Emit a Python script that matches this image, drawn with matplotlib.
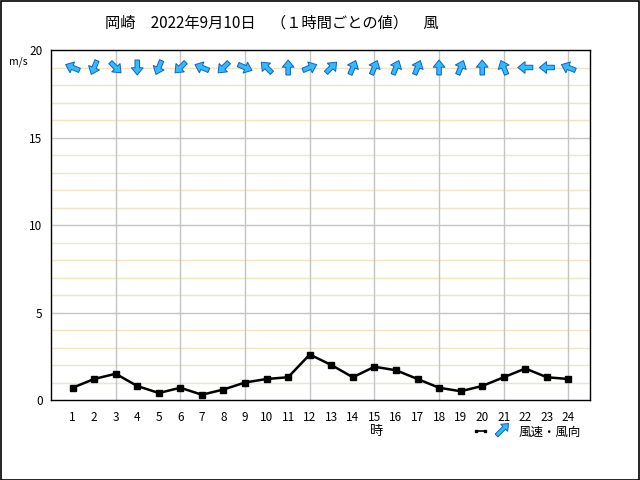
import numpy as np
import matplotlib.pyplot as plt
from matplotlib.patches import Rectangle

plt.rcParams['font.family'] = ['Noto Sans CJK JP', 'DejaVu Sans']

# hourly wind speed (m/s) and direction (where the arrow points, 16-point compass)
hours = list(range(1, 25))
speed = [0.7, 1.2, 1.5, 0.8, 0.4, 0.7, 0.3, 0.6, 1.0, 1.2, 1.3, 2.6,
         2.0, 1.3, 1.9, 1.7, 1.2, 0.7, 0.5, 0.8, 1.3, 1.8, 1.3, 1.2]
to_dir = ['WNW', 'SSW', 'SE', 'S', 'SSW', 'SW', 'WNW', 'SW', 'ESE', 'NW', 'N', 'ENE',
          'NE', 'NNE', 'NNE', 'NNE', 'NNE', 'N', 'NNE', 'N', 'NNW', 'W', 'W', 'WNW']
compass = ['N', 'NNE', 'NE', 'ENE', 'E', 'ESE', 'SE', 'SSE',
           'S', 'SSW', 'SW', 'WSW', 'W', 'WNW', 'NW', 'NNW']
title = '岡崎　2022年9月10日　（１時間ごとの値）　風'

arrow_kw = dict(angles='uv', pivot='middle', units='dots', width=4.5, headwidth=2.6,
                headlength=1.6, headaxislength=1.6, color='#33bbff',
                edgecolor='#1060c0', linewidth=0.7)

fig = plt.figure(figsize=(6.4, 4.8), dpi=100)
fig.patches.append(Rectangle((0.001, 0.001), 0.997, 0.997, transform=fig.transFigure,
                             fill=False, edgecolor='black', linewidth=1.2))
ax = fig.add_axes([51 / 640, 80 / 480, 539 / 640, 350 / 480])

ax.set_xlim(0, 25)
ax.set_ylim(0, 20)
ax.set_xticks(hours)
ax.set_yticks([0, 5, 10, 15, 20])
ax.tick_params(which='both', length=0, labelsize=8.5, colors='black', pad=6)
ax.tick_params(axis='x', pad=8)
for y in range(1, 20):
    if y % 5:
        ax.axhline(y, color='#efe5c2', linewidth=1.0, zorder=0)
    else:
        ax.axhline(y, color='#c4c4c4', linewidth=1.0, zorder=0)
for x in range(3, 25, 3):
    ax.axvline(x, color='#c4c4c4', linewidth=1.0, zorder=0)
for s in ax.spines.values():
    s.set_linewidth(1.0)

ax.plot(hours, speed, color='black', linewidth=1.8, marker='s', markersize=5, zorder=3)

ang = np.deg2rad([90 - 22.5 * compass.index(d) for d in to_dir])
ax.quiver(hours, [19] * 24, np.cos(ang), np.sin(ang), scale=1 / 15, zorder=4, **arrow_kw)

fig.text(272 / 640, 1 - 23 / 480, title, fontsize=11, ha='center', va='center')
fig.text(18 / 640, 1 - 62 / 480, 'm/s', fontsize=7.5, ha='center', va='center')
fig.text(377 / 640, 1 - 432 / 480, '時', fontsize=9.5, ha='center', va='center')

# legend
fig.lines.append(plt.Line2D([476 / 640, 485 / 640], [1 - 431 / 480] * 2, color='black',
                            linewidth=1.2, marker='s', markersize=2,
                            transform=fig.transFigure))
fig.text(550 / 640, 1 - 432 / 480, '風速・風向', fontsize=9, ha='center', va='center')
lax = fig.add_axes([493 / 640, 1 - 438 / 480, 18 / 640, 18 / 480])
lax.set_xlim(-1, 1)
lax.set_ylim(-1, 1)
lax.axis('off')
lax.quiver([0], [0], [1], [1], scale=1 / 12, **{**arrow_kw, 'width': 3.8})

fig.savefig('out.png', dpi=100)
